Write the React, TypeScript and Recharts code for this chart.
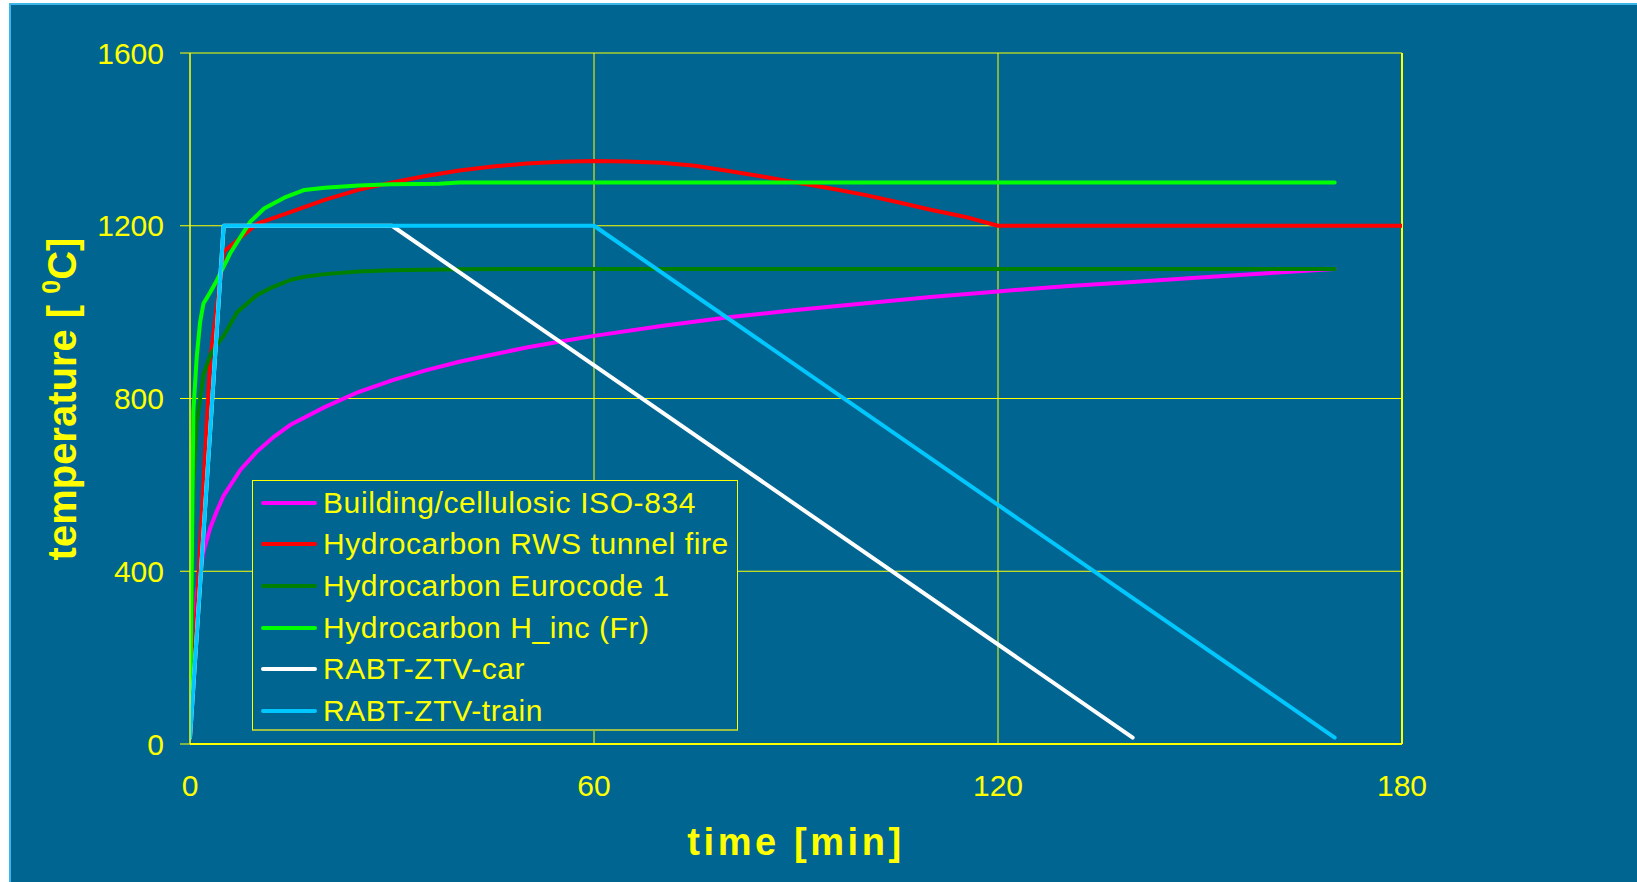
import React from 'react';
import { LineChart, Line, XAxis, YAxis, CartesianGrid, Legend, ReferenceLine } from 'recharts';

const FONT = '"Liberation Sans", Arial, Helvetica, sans-serif';
const YELLOW = '#FFFF00';
const BG = '#006691';

// time axis ticks and temperature ticks
const xTicks = [0, 60, 120, 180];
const yTicks = [0, 400, 800, 1200, 1600];

// Building/cellulosic ISO-834
const isoTime = [0, 1, 2, 3, 4, 5, 7.5, 10, 12.5, 15, 20, 25, 30, 35, 40, 45, 50, 55, 60, 70, 80, 90, 100, 110, 120, 130, 140, 150, 160, 170];
const isoTemp = [20, 350, 445, 500, 540, 575, 635, 678, 712, 740, 780, 815, 842, 865, 885, 902, 918, 932, 945, 968, 988, 1005, 1020, 1035, 1048, 1060, 1070, 1080, 1090, 1100];

// Hydrocarbon RWS tunnel fire
const rwsTime = [0, 3, 5, 10, 15, 20, 25, 30, 35, 40, 45, 50, 55, 60, 65, 70, 75, 80, 85, 90, 95, 100, 105, 110, 115, 120, 180];
const rwsTemp = [20, 890, 1140, 1205, 1232, 1260, 1283, 1300, 1315, 1328, 1337, 1344, 1348, 1350, 1349, 1346, 1339, 1327, 1314, 1300, 1287, 1272, 1255, 1237, 1221, 1200, 1200];

// Hydrocarbon Eurocode 1
const ecTime = [0, 0.5, 1, 2, 3, 4, 5, 7, 10, 12, 15, 17, 20, 25, 30, 40, 50, 170];
const ecTemp = [20, 600, 745, 855, 900, 925, 945, 1000, 1040, 1056, 1075, 1082, 1088, 1094, 1097, 1099, 1100, 1100];

// Hydrocarbon H_inc (Fr)
const hincTime = [0, 0.5, 1, 1.5, 2, 3, 4, 6, 7, 9, 11, 14, 17, 20, 25, 30, 37, 40, 170];
const hincTemp = [20, 770, 896, 977, 1020, 1046, 1074, 1137, 1162, 1210, 1240, 1265, 1283, 1288, 1293, 1296, 1297, 1300, 1300];

// RABT-ZTV-car
const carTime = [0, 5, 30, 140];
const carTemp = [15, 1200, 1200, 15];

// RABT-ZTV-train
const trainTime = [0, 5, 60, 170];
const trainTemp = [15, 1200, 1200, 15];

const zip = (t: number[], v: number[]) => t.map((x, i) => ({ t: x, v: v[i] }));

const series = [
  { name: 'Building/cellulosic ISO-834', color: '#FF00FF', data: zip(isoTime, isoTemp) },
  { name: 'Hydrocarbon RWS tunnel fire', color: '#FF0000', data: zip(rwsTime, rwsTemp) },
  { name: 'Hydrocarbon Eurocode 1', color: '#008000', data: zip(ecTime, ecTemp) },
  { name: 'Hydrocarbon H_inc (Fr)', color: '#00FF00', data: zip(hincTime, hincTemp) },
  { name: 'RABT-ZTV-car', color: '#FFFFFF', data: zip(carTime, carTemp) },
  { name: 'RABT-ZTV-train', color: '#00C8FF', data: zip(trainTime, trainTemp) },
];

const LegendBox = () => (
  <div
    style={{
      width: 486,
      height: 251,
      boxSizing: 'border-box',
      border: `1px solid ${YELLOW}`,
      borderBottom: '2px solid #9DBE45',
      background: BG,
      paddingTop: 1,
      fontFamily: FONT,
    }}
  >
    {series.map((s) => (
      <div key={s.name} style={{ height: 41.6, display: 'flex', alignItems: 'center', position: 'relative' }}>
        <svg width={70} height={20} style={{ flex: 'none' }}>
          <line x1={10} y1={10} x2={62} y2={10} stroke={s.color} strokeWidth={4} strokeLinecap="round" />
        </svg>
        <span style={{ color: YELLOW, fontSize: 30, lineHeight: '30px', letterSpacing: 0.6, whiteSpace: 'nowrap' }}>{s.name}</span>
      </div>
    ))}
  </div>
);

export default function App() {
  return (
    <div
      style={{
        position: 'absolute',
        left: 9,
        top: 3,
        width: 1628,
        height: 879,
        boxSizing: 'border-box',
        borderLeft: '2px solid #3DB5E6',
        borderTop: '2px solid #3DB5E6',
        background: BG,
        overflow: 'hidden',
      }}
    >
      <LineChart width={1626} height={877} margin={{ top: 48, right: 235, bottom: 78, left: 79 }} style={{ fontFamily: FONT }}>
        <CartesianGrid stroke={YELLOW} strokeWidth={1} />
        <XAxis
          type="number"
          dataKey="t"
          domain={[0, 180]}
          ticks={xTicks}
          allowDataOverflow
          height={60}
          axisLine={{ stroke: YELLOW, strokeWidth: 2 }}
          tickLine={false}
          tickSize={10}
          tickMargin={21}
          tick={{ fill: YELLOW, fontSize: 30, fontFamily: FONT }}
          label={{
            content: (props: any) => {
              const vb = props.viewBox || { x: 179, width: 1212 };
              return (
                <text
                  x={vb.x + vb.width / 2}
                  y={850}
                  textAnchor="middle"
                  fill={YELLOW}
                  fontSize={38}
                  fontWeight="bold"
                  letterSpacing={3.6}
                  fontFamily={FONT}
                >
                  time [min]
                </text>
              );
            },
          }}
        />
        <YAxis
          type="number"
          domain={[0, 1600]}
          ticks={yTicks}
          width={100}
          axisLine={{ stroke: YELLOW, strokeWidth: 1 }}
          tickLine={{ stroke: YELLOW, strokeWidth: 1 }}
          tickSize={10}
          tickMargin={16}
          tick={{ fill: YELLOW, fontSize: 30, fontFamily: FONT }}
          label={{
            content: () => (
              <text
                transform="translate(65, 394) rotate(-90)"
                textAnchor="middle"
                fill={YELLOW}
                fontSize={40}
                fontWeight="bold"
                fontFamily={FONT}
              >
                temperature [ <tspan fontSize={25} dy={-16}>0</tspan>
                <tspan dy={16}>C]</tspan>
              </text>
            ),
          }}
        />
        <ReferenceLine x={180} stroke={YELLOW} strokeWidth={2} />
        {series.map((s) => (
          <Line
            key={s.name}
            data={s.data}
            dataKey="v"
            name={s.name}
            type="linear"
            stroke={s.color}
            strokeWidth={4}
            strokeLinecap="round"
            strokeLinejoin="round"
            dot={false}
            activeDot={false}
            isAnimationActive={false}
          />
        ))}
        <Legend
          layout="vertical"
          align="center"
          verticalAlign="middle"
          wrapperStyle={{ left: 241, top: 475, width: 486, height: 251 }}
          content={() => <LegendBox />}
        />
      </LineChart>
    </div>
  );
}
